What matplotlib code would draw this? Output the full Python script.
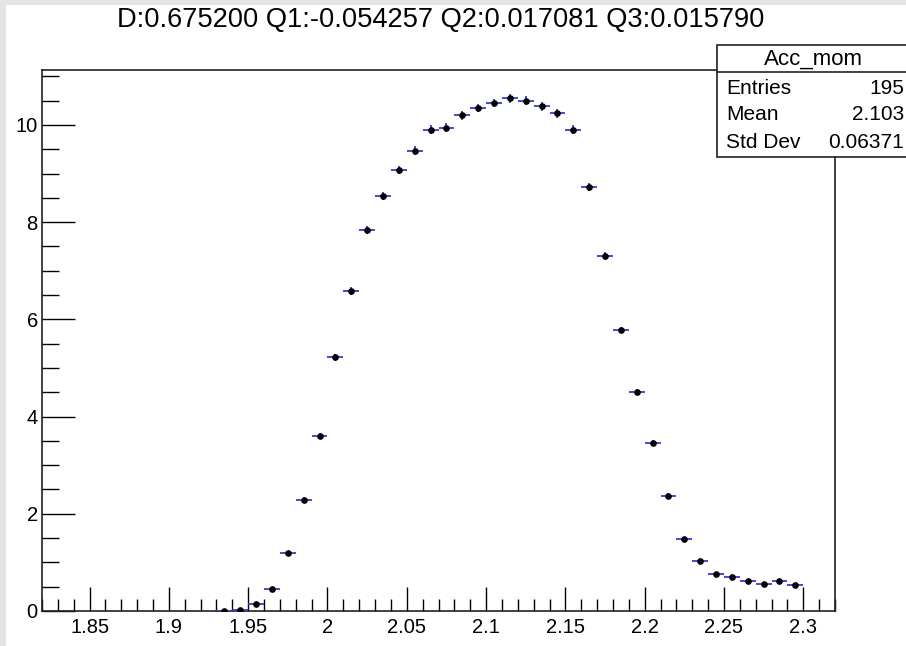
import matplotlib
matplotlib.use("Agg")
import matplotlib.pyplot as plt
from matplotlib.patches import Rectangle
from matplotlib.lines import Line2D
from matplotlib.ticker import MultipleLocator, FixedLocator

plt.rcParams['font.family'] = ['Liberation Sans', 'DejaVu Sans']

title = "D:0.675200 Q1:-0.054257 Q2:0.017081 Q3:0.015790"
bin_centers = [1.935, 1.945, 1.955, 1.965, 1.975, 1.985, 1.995, 2.005, 2.015, 2.025,
               2.035, 2.045, 2.055, 2.065, 2.075, 2.085, 2.095, 2.105, 2.115, 2.125,
               2.135, 2.145, 2.155, 2.165, 2.175, 2.185, 2.195, 2.205, 2.215, 2.225,
               2.235, 2.245, 2.255, 2.265, 2.275, 2.285, 2.295]
values = [0.01, 0.03, 0.15, 0.45, 1.19, 2.28, 3.60, 5.22, 6.58, 7.84,
          8.54, 9.07, 9.47, 9.90, 9.94, 10.20, 10.35, 10.45, 10.55, 10.50,
          10.38, 10.24, 9.90, 8.72, 7.30, 5.78, 4.50, 3.46, 2.37, 1.48,
          1.02, 0.77, 0.70, 0.62, 0.56, 0.62, 0.53]
errors = [0.01, 0.02, 0.03, 0.04, 0.05, 0.06, 0.07, 0.07, 0.08, 0.08,
          0.08, 0.08, 0.09, 0.09, 0.09, 0.09, 0.09, 0.09, 0.09, 0.09,
          0.09, 0.09, 0.09, 0.08, 0.08, 0.07, 0.06, 0.06, 0.05, 0.04,
          0.03, 0.03, 0.03, 0.03, 0.03, 0.03, 0.03]
bin_half_width = 0.005
stats_name = "Acc_mom"
stats_rows = [("Entries", "195"), ("Mean", "2.103"), ("Std Dev", "0.06371")]
xticks = [1.85, 1.9, 1.95, 2.0, 2.05, 2.1, 2.15, 2.2, 2.25, 2.3]
xtick_labels = ["1.85", "1.9", "1.95", "2", "2.05", "2.1", "2.15", "2.2", "2.25", "2.3"]
yticks = [0, 2, 4, 6, 8, 10]

W, H = 906, 646
fig = plt.figure(figsize=(W / 100, H / 100), dpi=100)
fig.patch.set_facecolor('white')

def fx(px):
    return px / W

def fy(py):
    return 1 - py / H

gray = '#e4e4e4'
fig.add_artist(Rectangle((0, 0), fx(6), 1, transform=fig.transFigure, color=gray, lw=0, zorder=0))
fig.add_artist(Rectangle((0, fy(5)), 1, 5 / H, transform=fig.transFigure, color=gray, lw=0, zorder=0))

left, right, top, bottom = 42, 835, 70, 611
ax = fig.add_axes([fx(left), fy(bottom), (right - left) / W, (bottom - top) / H])
ax.set_xlim(1.82, 2.32)
ax.set_ylim(0, 11.13)

ax.errorbar(bin_centers, values, xerr=bin_half_width, yerr=errors, fmt='o',
            color='black', ms=3.8, ecolor='#3a3ad0', elinewidth=1.3, capsize=0, zorder=3)

for s in ax.spines.values():
    s.set_linewidth(1.2)
    s.set_color('#222222')

ax.xaxis.set_major_locator(FixedLocator(xticks))
ax.set_xticklabels(xtick_labels)
ax.xaxis.set_minor_locator(MultipleLocator(0.01))
ax.yaxis.set_major_locator(FixedLocator(yticks))
ax.yaxis.set_minor_locator(MultipleLocator(0.5))
ax.tick_params(axis='x', which='major', direction='in', length=17, width=1, labelsize=14.5, pad=5, top=False)
ax.tick_params(axis='x', which='minor', direction='in', length=8.5, width=1, top=False)
ax.tick_params(axis='y', which='major', direction='in', length=24, width=1, labelsize=14.5, pad=3, right=False)
ax.tick_params(axis='y', which='minor', direction='in', length=12.5, width=1, right=False)

fig.text(fx(441), fy(20), title, ha='center', va='center', fontsize=19.6)

# stats box
bx0, bx1, by0, by1, bsep = 717, 910, 45, 157, 72
fig.add_artist(Rectangle((fx(bx0), fy(by1)), (bx1 - bx0) / W, (by1 - by0) / H,
                         transform=fig.transFigure, facecolor='white', edgecolor='#222222',
                         lw=1.2, zorder=10))
fig.add_artist(Line2D([fx(bx0), fx(bx1)], [fy(bsep), fy(bsep)], transform=fig.transFigure,
                      color='#222222', lw=1.2, zorder=11))
fig.text(fx(813), fy(59), stats_name, ha='center', va='center', fontsize=16, zorder=12)
row_y = [88, 115, 142]
for (k, v), yy in zip(stats_rows, row_y):
    fig.text(fx(726), fy(yy), k, ha='left', va='center', fontsize=15, zorder=12)
    fig.text(fx(904), fy(yy), v, ha='right', va='center', fontsize=15, zorder=12)

fig.savefig('out.png', dpi=100)
